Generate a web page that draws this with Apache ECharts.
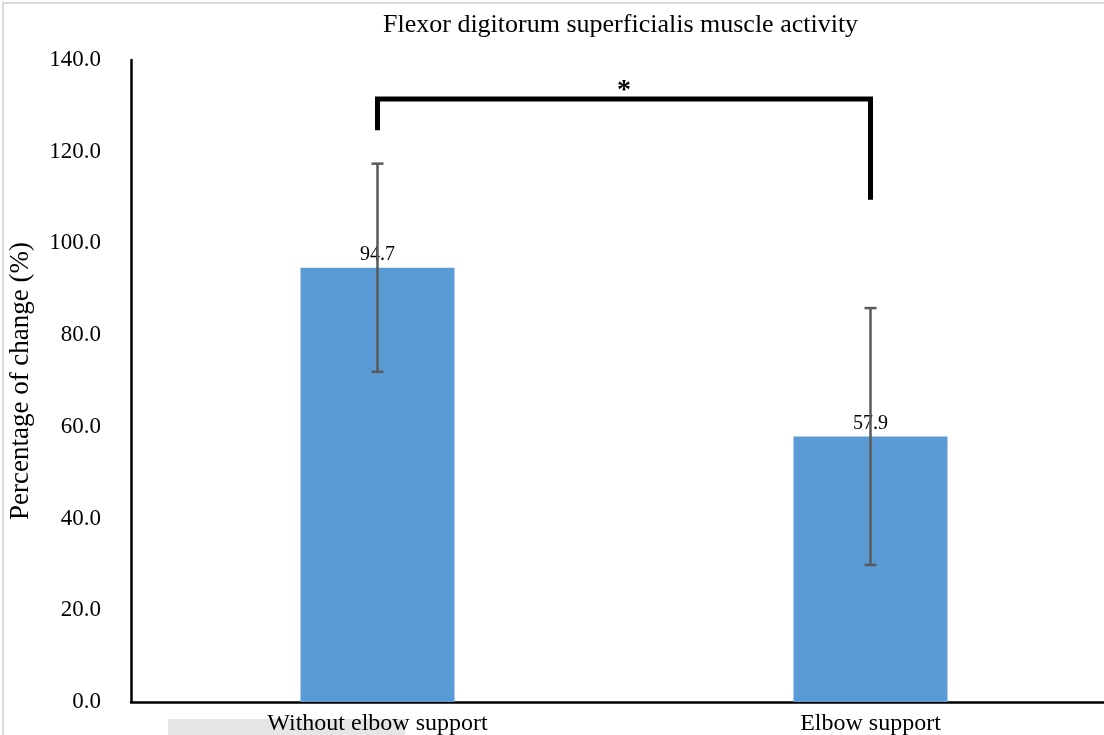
<!DOCTYPE html>
<html><head><meta charset="utf-8">
<script src="https://cdn.jsdelivr.net/npm/echarts@6/dist/echarts.min.js"></script>
<style>html,body{margin:0;padding:0;background:#fff}#c{width:1104px;height:735px}</style>
</head><body><div id="c"></div>
<script>
var categories = ['Without elbow support', 'Elbow support'];
var means = [94.7, 57.9];
var errLow = [72.0, 29.9];
var errHigh = [117.4, 85.9];
var yTicks = [0, 20, 40, 60, 80, 100, 120, 140];
var bracketTop = 131.5;
var bracketLeftEnd = 124.7;
var bracketRightEnd = 109.5;
var sigLabel = '*';

var serif = '"Liberation Serif","DejaVu Serif",serif';
var chart = echarts.init(document.getElementById('c'));
chart.setOption({
  animation: false,
  backgroundColor: '#fff',
  title: {
    text: 'Flexor digitorum superficialis muscle activity',
    left: 378, top: 7,
    textStyle: {fontFamily: serif, fontSize: 26, fontWeight: 'normal', color: '#000'}
  },
  graphic: [
    {type: 'rect', shape: {x: 3, y: 3, width: 1120, height: 760}, style: {fill: 'none', stroke: '#d9d9d9', lineWidth: 2}, z: -10},
    {type: 'rect', shape: {x: 168, y: 719, width: 237, height: 20}, style: {fill: '#e6e6e6'}, z: -10}
  ],
  grid: {left: 131, top: 60, height: 642, width: 986, containLabel: false, outerBoundsMode: 'none'},
  xAxis: {
    type: 'category', data: categories,
    axisLine: {lineStyle: {color: '#000', width: 2.5}},
    axisTick: {show: false},
    axisLabel: {fontFamily: serif, fontSize: 24, color: '#000', margin: 10}
  },
  yAxis: {
    type: 'value', min: yTicks[0], max: yTicks[yTicks.length - 1], interval: 20,
    name: 'Percentage of change (%)', nameLocation: 'middle', nameGap: 97,
    nameTextStyle: {fontFamily: serif, fontSize: 27, color: '#000'},
    axisLine: {show: true, lineStyle: {color: '#000', width: 2.5}},
    axisTick: {show: false},
    splitLine: {show: false},
    axisLabel: {fontFamily: serif, fontSize: 23, color: '#000', margin: 30,
      formatter: function (v) { return v.toFixed(1); }}
  },
  series: [
    {
      type: 'bar', data: means, barWidth: 154,
      itemStyle: {color: '#5b9bd5'},
      label: {show: true, position: 'top', distance: 3, fontFamily: serif, fontSize: 20, color: '#000',
        formatter: function (p) { return p.value.toFixed(1); }}
    },
    {
      type: 'custom', z: 10,
      data: categories.map(function (c, i) { return [i, errLow[i], errHigh[i]]; }),
      encode: {x: 0, y: [1, 2]},
      renderItem: function (params, api) {
        var lo = api.coord([api.value(0), api.value(1)]);
        var hi = api.coord([api.value(0), api.value(2)]);
        var s = {stroke: '#595959', lineWidth: 2.5};
        return {type: 'group', children: [
          {type: 'line', shape: {x1: hi[0], y1: hi[1], x2: lo[0], y2: lo[1]}, style: s},
          {type: 'line', shape: {x1: hi[0] - 6, y1: hi[1], x2: hi[0] + 6, y2: hi[1]}, style: s},
          {type: 'line', shape: {x1: lo[0] - 6, y1: lo[1], x2: lo[0] + 6, y2: lo[1]}, style: s}
        ]};
      }
    },
    {
      type: 'custom', z: 11,
      data: [[0, 1, bracketTop, bracketLeftEnd, bracketRightEnd]],
      encode: {x: 0, y: 2},
      renderItem: function (params, api) {
        var a = api.coord([api.value(0), api.value(3)]);
        var b = api.coord([api.value(0), api.value(2)]);
        var c = api.coord([api.value(1), api.value(2)]);
        var d = api.coord([api.value(1), api.value(4)]);
        return {type: 'group', children: [
          {type: 'polyline', shape: {points: [a, b, c, d]}, style: {stroke: '#000', lineWidth: 5, fill: 'none', lineJoin: 'miter'}},
          {type: 'text', style: {text: sigLabel, x: (b[0] + c[0]) / 2, y: b[1] + 6, textAlign: 'center', textVerticalAlign: 'bottom',
            font: 'bold 28px ' + serif, fill: '#000'}}
        ]};
      }
    }
  ]
});
</script></body></html>
